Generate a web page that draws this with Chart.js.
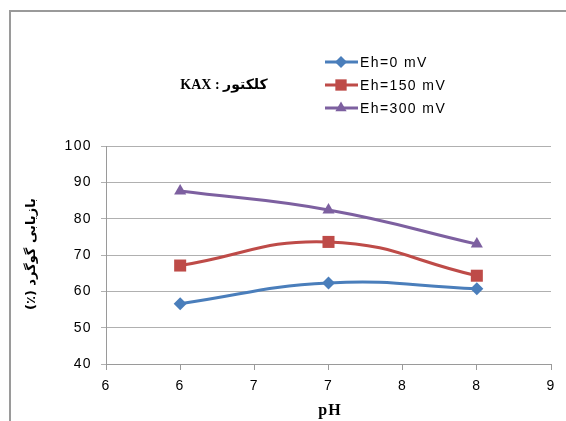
<!DOCTYPE html>
<html>
<head>
<meta charset="utf-8">
<script src="https://cdn.jsdelivr.net/npm/chart.js@4"></script>
<style>
html,body{margin:0;padding:0;background:#fff;}
#wrap{position:relative;width:566px;height:421px;}
</style>
</head>
<body>
<div id="wrap"><canvas id="c" width="566" height="421"></canvas></div>
<script>
const pH = [6, 7, 8];
const eh0 = [56.6, 62.3, 60.7];
const eh150 = [67.1, 73.6, 64.3];
const eh300 = [87.6, 82.4, 73.0];
const seriesNames = ['Eh=0 mV', 'Eh=150 mV', 'Eh=300 mV'];
const xTickValues = [5.5, 6, 6.5, 7, 7.5, 8, 8.5];
const xTickLabels = ['6', '6', '7', '7', '8', '8', '9'];
const yTickLabels = ['40', '50', '60', '70', '80', '90', '100'];
const chartTitle = 'کلکتور : KAX';
const yTitle = 'بازیابی گوگرد (٪)';
const xTitle = 'pH';

const colors = ['#4A7EBB', '#BE4B48', '#7D60A0'];
const styles = ['rectRot', 'rect', 'triangle'];
const radii = [6.5, 8.5, 7];

function pts(vals){ return pH.map((x,i)=>({x:x, y:vals[i]})); }
const allVals = [eh0, eh150, eh300];

const datasets = allVals.map((v,i)=>({
  label: seriesNames[i],
  data: pts(v),
  showLine: true,
  borderColor: colors[i],
  backgroundColor: colors[i],
  borderWidth: 3,
  pointStyle: styles[i],
  pointRadius: radii[i],
  pointHoverRadius: radii[i],
  pointBorderWidth: 0,
  tension: 0.45
}));

const extras = {
  id: 'extras',
  beforeDraw(chart){
    const ctx = chart.ctx;
    ctx.letterSpacing = '1.4px';
    ctx.save();
    ctx.strokeStyle = '#9a9a9a';
    ctx.lineWidth = 2;
    ctx.beginPath();
    ctx.moveTo(10, 421); ctx.lineTo(10, 11); ctx.lineTo(566, 11);
    ctx.stroke();
    ctx.restore();
  },
  afterDraw(chart){
    const ctx = chart.ctx;
    ctx.save();
    ctx.letterSpacing = '0px';
    // title
    ctx.fillStyle = '#000';
    ctx.font = 'bold 14px "Liberation Serif", "DejaVu Sans", serif';
    ctx.textBaseline = 'middle';
    ctx.textAlign = 'center';
    ctx.direction = 'rtl';
    ctx.fillText(chartTitle, 224, 85);
    // y title
    ctx.save();
    ctx.translate(32, 254);
    ctx.rotate(-Math.PI/2);
    ctx.font = 'bold 13px "DejaVu Sans", "Liberation Sans", sans-serif';
    ctx.fillText(yTitle, 0, 0);
    ctx.restore();
    ctx.direction = 'ltr';
    // x title
    ctx.font = 'bold 16px "Liberation Serif", serif';
    ctx.letterSpacing = '1px';
    ctx.fillText(xTitle, 330, 411);
    // legend
    const rowsY = [62, 85, 108];
    ctx.font = '14px "Liberation Sans", Arial, sans-serif';
    ctx.letterSpacing = '1.4px';
    ctx.textAlign = 'left';
    for (let i=0;i<3;i++){
      const y = rowsY[i];
      ctx.strokeStyle = colors[i];
      ctx.lineWidth = 3;
      ctx.beginPath(); ctx.moveTo(325, y); ctx.lineTo(358, y); ctx.stroke();
      ctx.fillStyle = colors[i];
      Chart.helpers.drawPoint(ctx, {pointStyle: styles[i], radius: radii[i]-0.5, borderWidth: 0}, 341, y);
      ctx.fillStyle = '#000';
      ctx.fillText(seriesNames[i], 360, y+1);
    }
    ctx.restore();
  }
};

new Chart(document.getElementById('c'), {
  type: 'scatter',
  data: { datasets },
  options: {
    responsive: false,
    animation: false,
    devicePixelRatio: 1,
    layout: { padding: { left: 20, top: 146, right: 15, bottom: 0 } },
    plugins: { legend: { display: false }, tooltip: { enabled: false } },
    scales: {
      x: {
        type: 'linear',
        min: 5.5, max: 8.5,
        afterBuildTicks(scale){ scale.ticks = xTickValues.map(v=>({value:v})); },
        afterFit(scale){ scale.height = 57; },
        ticks: {
          color: '#000',
          font: { family: '"Liberation Sans", Arial, sans-serif', size: 14 },
          padding: 8,
          maxRotation: 0,
          autoSkip: false,
          callback(v, idx){ return xTickLabels[idx]; }
        },
        grid: { drawOnChartArea: false, drawTicks: true, tickLength: 6, color: '#9a9a9a' },
        border: { color: '#9a9a9a', width: 1 },
        title: { display: false }
      },
      y: {
        min: 40, max: 100,
        afterBuildTicks(scale){ scale.ticks = yTickLabels.map(v=>({value:Number(v)})); },
        afterFit(scale){ scale.width = 86; },
        ticks: {
          color: '#000',
          font: { family: '"Liberation Sans", Arial, sans-serif', size: 14 },
          padding: 9,
          callback(v, idx){ return yTickLabels[idx]; }
        },
        grid: { color: '#b0b0b0', tickLength: 5, lineWidth: 1 },
        border: { color: '#9a9a9a', width: 1 },
        title: { display: false }
      }
    }
  },
  plugins: [extras]
});
</script>
</body>
</html>
